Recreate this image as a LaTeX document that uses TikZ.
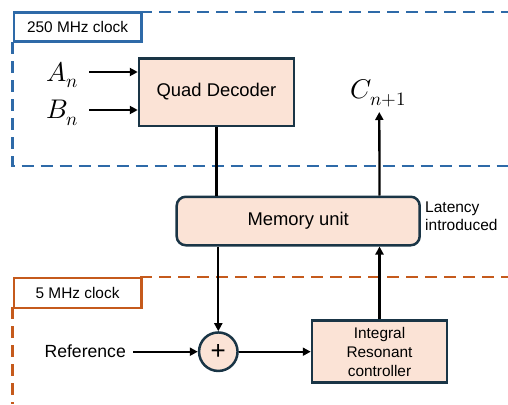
\documentclass[tikz,border=0pt]{standalone}
\usepackage{fontspec}
\setmainfont{Liberation Sans}
\usepackage{unicode-math}
\usetikzlibrary{arrows.meta}
\definecolor{peach}{HTML}{FBE3D6}
\definecolor{edge}{HTML}{1A3546}
\definecolor{clkblue}{HTML}{2E6AA8}
\definecolor{clkorange}{HTML}{C55A1C}
\tikzset{
  blk/.style={draw=edge, fill=peach, line width=2.5pt, inner sep=0pt},
  conn/.style={line width=2.3pt, -{Triangle[length=8pt,width=8pt]}},
  plainconn/.style={line width=2.3pt},
  clkline/.style={line width=2.6pt, dash pattern=on 12pt off 7pt},
  clkbox/.style={line width=2.6pt, fill=white, inner sep=0pt},
  lbl/.style={font=\fontsize{15.4}{18}\selectfont},
  big/.style={font=\fontsize{18.4}{20}\selectfont},
  mth/.style={font=\fontsize{27}{29}\selectfont, inner sep=0pt},
}
\begin{document}
\begin{tikzpicture}[x=1pt,y=-1pt]
\useasboundingbox (0,0) rectangle (508,404);
% blue clock domain
\draw[clkline, clkblue] (140,12) -- (508,12);
\draw[clkline, clkblue] (12.5,42) -- (12.5,166) -- (508,166);
\node[clkbox, draw=clkblue, minimum width=127.5pt, minimum height=29pt, anchor=north west, lbl] (c250) at (12.5,11.5) {250 MHz clock};
% orange clock domain
\draw[clkline, clkorange] (140,277) -- (508,277);
\draw[clkline, clkorange] (12.5,307) -- (12.5,404);
\node[clkbox, draw=clkorange, minimum width=127.5pt, minimum height=30pt, anchor=north west, lbl] (c5) at (12.5,276.5) {5 MHz clock};
% blocks
\node[blk, minimum width=155pt, minimum height=67.5pt, big] (qd) at (216.5,92) {Quad Decoder};
\node[blk, rounded corners=9pt, minimum width=243pt, minimum height=48.5pt, big] (mem) at (298.2,221) {Memory unit};
\node[blk, minimum width=135pt, minimum height=62pt, align=center, font=\fontsize{15.4}{19}\selectfont] (irc) at (379.5,351.7) {Integral\\Resonant\\controller};
\node[blk, circle, minimum size=38.5pt, font=\fontsize{26}{26}\selectfont] (sum) at (218.3,351.7) {+};
% labels
\node[mth, anchor=east] (an) at (79,75) {$A_n$};
\node[mth, anchor=east] (bn) at (79,113) {$B_n$};
\node[mth] (cn) at (378.5,93) {$C_{n+1}$};
\node[anchor=east, inner sep=0pt, font=\fontsize{17.6}{20}\selectfont] (ref) at (126,351.7) {Reference};
\node[anchor=north west, align=left, inner sep=0pt, font=\fontsize{15.5}{18}\selectfont] (lat) at (425,202) {Latency\\introduced};
% connectors
\coordinate (aend) at (qd.west |- 0,72);
\coordinate (bend) at (qd.west |- 0,110);
\coordinate (astart) at (89,72);
\coordinate (bstart) at (89,110);
\coordinate (cend) at (379.3,112);
\draw[conn] (astart) -- (aend);
\draw[conn] (bstart) -- (bend);
\draw[plainconn] (qd.south) -- (qd.south |- mem.north);
\draw[conn] (sum.north |- mem.south) -- (sum.north);
\draw[conn] ([xshift=7pt]ref.east) -- (sum.west);
\draw[conn] (sum.east) -- (irc.west);
\draw[conn] (irc.north) -- (irc.north |- mem.south);
\draw[conn] (irc.north |- mem.north) -- (cend);
\end{tikzpicture}
\end{document}
